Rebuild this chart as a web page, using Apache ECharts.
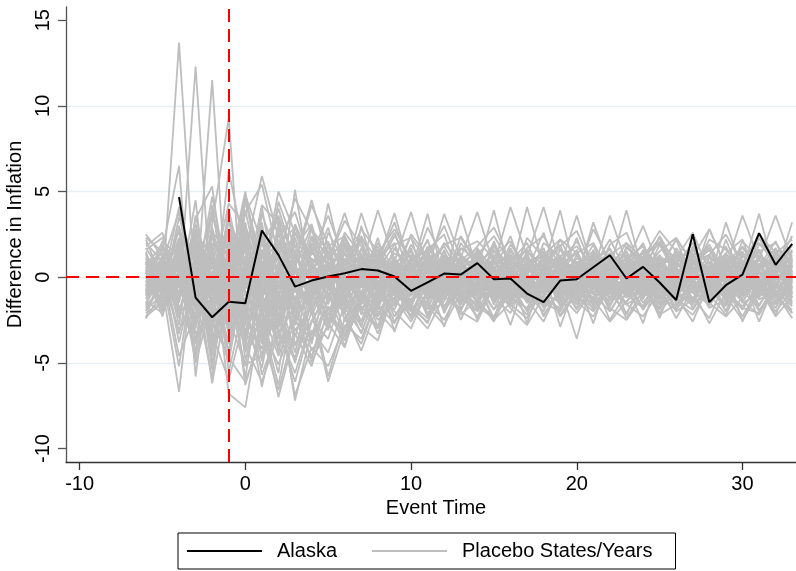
<!DOCTYPE html>
<html><head><meta charset="utf-8">
<script src="https://cdn.jsdelivr.net/npm/echarts@6/dist/echarts.min.js"></script>
<style>html,body{margin:0;padding:0;background:#fff}#c{width:796px;height:571px}</style>
</head><body><div id="c"></div>
<script>
// ---- data ----
const eventTimes = [-6,-5,-4,-3,-2,-1,0,1,2,3, 4,5,6,7,8,9,10,11,12,13, 14,15,16,17,18,19,20,21,22,23, 24,25,26,27,28,29,30,31,32,33];
const alaskaTimes = [-4,-3,-2,-1,0,1,2,3, 4,5,6,7,8,9,10,11,12,13, 14,15,16,17,18,19,20,21,22,23, 24,25,26,27,28,29,30,31,32,33];
const alaskaValues = [4.67,-1.19,-2.34,-1.44,-1.52,2.72,1.30,-0.55, -0.20,0.04,0.23,0.47,0.39,0.04,-0.80,-0.31,0.21,0.15, 0.82,-0.12,-0.08,-0.96,-1.46,-0.20,-0.12,0.58,1.28,-0.08, 0.60,-0.31,-1.33,2.51,-1.46,-0.47,0.15,2.57,0.72,1.95];

const p01 = [0.4,-0.8,13.7,-1.2,0.6,-0.9,1.2,-0.5,0.8,0.3, 1.1,0.2,-0.6,0.9,0.4,-0.3,0.7,1.2,0.1,-0.4, 0.6,1.0,-0.2,0.5,0.9,-0.7,0.3,1.1,0.4,-0.1, 0.8,0.2,-0.5,0.7,1.3,0.0,0.6,-0.8,0.9,0.5];
const p02 = [-0.5,0.9,-1.4,12.3,-2.1,1.5,-1.8,0.7,2.2,-0.9, 0.6,-1.1,1.4,0.3,-0.7,1.0,-0.2,0.8,-1.3,0.5, 1.2,-0.4,0.2,-0.9,1.1,0.6,-0.6,0.4,-1.0,0.9, 0.1,-0.5,1.3,0.3,-0.8,0.7,-0.3,1.0,0.2,-0.6];
const p03 = [1.0,0.3,-0.6,-1.5,11.5,-3.2,0.8,2.1,-1.9,1.3, -0.4,0.9,-1.2,0.5,1.4,-0.3,0.6,-0.8,1.1,0.2, -0.6,0.8,1.3,-0.1,0.4,-1.1,0.7,0.3,-0.4,1.2, 0.5,-0.9,0.2,1.0,-0.3,0.6,1.4,-0.2,0.3,0.8];
const p04 = [-1.2,-0.4,0.8,-2.6,3.1,9.3,-4.2,2.4,-1.6,0.9, 1.8,-0.7,0.4,1.2,-0.9,0.3,0.8,-0.5,1.5,-0.2, 0.7,-1.0,0.5,1.3,-0.4,0.9,0.1,-0.7,1.0,0.4, -0.3,1.2,0.6,-0.8,0.2,0.9,-0.5,0.4,1.1,-0.1];
const p05 = [0.2,1.6,6.5,-5.8,1.9,-3.4,2.6,-2.8,3.3,-1.5, 1.7,-0.8,2.0,-1.2,0.9,0.5,-0.9,1.4,0.1,-0.6, 1.1,0.3,-0.4,0.8,1.2,-0.5,0.6,-0.2,0.9,0.4, -0.8,0.7,1.3,0.0,-0.5,1.0,0.3,-0.7,0.5,1.2];
const p06 = [0.9,-0.3,1.7,-3.6,-2.0,6.2,1.4,5.9,2.3,3.8, 0.6,2.9,-0.5,1.6,0.8,-0.2,1.9,0.4,-0.8,1.3, 0.2,0.9,-0.6,1.5,0.7,-0.3,1.1,0.5,-0.9,0.8, 1.4,-0.2,0.6,1.0,-0.6,0.3,0.9,1.6,-0.4,0.7];
const p07 = [-1.8,-0.6,-6.7,1.8,-5.1,2.3,-3.9,1.6,-2.7,0.5, -1.4,0.8,-0.9,0.2,-1.6,0.6,-0.3,-1.1,0.9,-0.7, 0.4,-1.3,0.1,-0.5,1.0,-0.9,-0.2,0.6,-1.2,0.3, -0.6,0.8,-1.0,0.2,-0.4,1.1,-0.8,0.0,-1.5,0.4];
const p08 = [0.6,-1.1,2.2,-3.0,1.4,-6.8,-7.6,-1.9,-4.6,-2.2, -3.4,-0.6,-2.1,0.4,-1.5,-0.8,0.3,-1.2,-0.4,0.7, -0.9,0.2,-1.4,0.5,-0.3,-1.0,0.8,-0.6,0.1,-1.2, 0.4,-0.7,0.9,-0.2,-1.1,0.6,-0.5,0.3,-0.9,0.2];
const p09 = [-0.9,0.4,-2.0,1.2,-3.8,0.7,-2.4,-4.5,-1.2,-7.2, -3.1,-4.4,-1.6,-2.8,-0.7,-1.9,0.2,-1.3,-0.5,-2.0, 0.3,-0.8,-1.6,0.1,-0.9,0.5,-1.4,-0.2,-0.7,0.6, -1.1,0.2,-0.5,-1.3,0.4,-0.8,0.1,-1.0,0.5,-0.3];
const p10 = [1.3,-0.2,-3.1,-1.0,-5.9,1.9,-0.8,-2.6,-7.0,-3.3, -5.2,-1.8,-3.5,-0.9,-2.3,-0.4,-1.7,0.5,-1.0,-0.2, -1.5,0.6,-0.7,-1.2,0.3,-0.6,-1.8,0.4,-0.3,-0.9, 0.7,-1.3,-0.1,0.5,-0.8,-1.6,0.3,-0.5,0.8,-1.0];
const p11 = [-2.3,-1.5,0.9,-4.7,0.2,-2.9,1.1,-3.8,-1.4,-4.9, -2.0,-6.1,-3.0,-1.1,-3.3,-0.6,-2.4,-1.0,0.1,-1.6, -0.5,-1.9,0.2,-1.1,-0.4,-2.2,-0.8,0.3,-1.3,-0.6, -1.7,0.1,-0.9,-1.4,0.2,-0.7,-1.9,-0.3,-1.0,-2.1];
const p12 = [1.8,2.6,-1.3,3.4,5.3,-1.7,3.8,5.4,1.2,4.6, 2.7,1.0,3.3,1.8,0.6,2.4,1.1,0.3,2.0,0.8, 1.5,-0.1,1.9,0.7,1.3,2.2,0.4,1.0,1.6,0.2, 1.2,2.0,0.6,1.4,-0.2,0.9,1.7,0.5,1.1,1.8];
const p13 = [-1.0,0.5,-2.4,2.7,-1.8,3.6,-2.3,4.1,-1.5,5.1, -0.4,4.3,0.2,3.75,0.8,3.75,0.3,3.7,-0.2,3.6, 0.4,3.9,0.1,4.1,0.6,3.9,-0.1,3.2,0.5,3.9, 0.2,2.4,0.7,2.0,-0.3,3.2,0.4,3.7,0.1,3.2];
const p14 = [0.8,-0.9,3.0,-2.0,3.9,-1.2,4.4,0.5,4.0,0.9, 4.5,1.0,3.75,0.6,3.9,0.9,3.8,0.4,3.7,1.1, 3.8,0.7,4.1,1.2,4.1,0.6,3.6,0.3,3.6,0.8, 3.0,0.5,2.2,-0.2,2.8,0.6,3.6,1.0,3.6,0.9];
const p15 = [0.3,-0.7,1.2,-1.9,2.4,-0.6,1.8,-2.2,0.9,-1.3, 1.6,-0.4,0.7,1.1,-0.8,0.5,1.3,-0.3,0.9,0.2, -0.6,1.0,0.4,-0.9,1.2,0.3,-0.2,0.8,1.4,-0.5, 0.6,0.1,-0.8,1.0,0.4,-0.3,0.9,0.2,-0.6,1.1];
const p16 = [-0.6,0.8,-1.5,2.8,-3.2,1.4,-2.5,3.0,-1.1,2.2, -0.3,1.5,-0.9,0.6,1.8,-0.2,0.4,1.0,-0.7,1.3, 0.5,-0.4,1.1,0.2,-1.0,0.7,1.5,-0.3,0.6,0.0, 1.2,-0.6,0.3,0.9,-0.2,1.4,0.1,-0.9,0.7,0.4];
const p17 = [1.1,0.2,0.7,-0.9,-2.8,3.3,0.5,-3.5,2.7,-1.6, 0.8,2.1,-1.4,0.3,-0.5,1.2,-1.0,0.6,0.2,-0.8, 1.3,0.0,-0.7,0.9,0.5,-1.2,0.3,1.1,-0.4,0.6, -0.2,0.8,1.0,-0.6,0.3,0.7,-1.1,0.5,0.9,-0.3];
const p18 = [-1.4,-2.1,0.4,1.6,-1.2,-4.3,2.2,-1.5,-3.6,0.4, -2.2,-0.3,-1.7,1.0,-0.6,-1.4,0.5,-0.9,-0.2,-1.5, 0.2,-0.7,-1.3,0.6,-0.4,-0.1,-1.6,0.3,-0.8,-0.3, -1.2,0.5,-0.6,-0.1,-1.4,0.2,-0.9,0.6,-0.5,-1.2];
const p19 = [0.7,1.9,-0.3,-2.4,4.2,-2.0,2.9,1.1,3.5,-0.7, 2.4,0.6,1.7,-0.2,2.0,0.4,1.5,-0.6,1.2,0.9, -0.3,1.8,0.5,1.1,-0.5,1.6,0.8,0.0,1.3,0.6, 1.0,-0.4,1.5,0.7,1.9,0.2,-0.1,1.2,0.4,1.6];
const p20 = [-0.2,-1.3,-0.8,0.5,-3.5,-1.1,-5.2,0.6,-4.0,-2.5, -0.9,-3.1,0.2,-1.8,-1.1,0.4,-2.0,-0.5,-1.3,0.3, -1.0,-0.2,-1.7,-0.6,0.5,-1.1,-0.3,-1.9,0.1,-0.7, -0.4,-1.5,0.3,-0.9,-0.2,-1.3,0.4,-0.6,-1.8,0.0];
const p21 = [0.5,0.0,2.3,-1.1,0.6,1.7,-2.6,2.5,0.3,1.9, -1.5,2.0,0.1,-0.9,1.2,0.7,-0.4,1.8,0.2,-0.2, 1.4,0.6,-0.8,1.0,0.3,1.2,-0.5,0.9,0.4,1.5, -0.7,0.8,0.1,1.3,-0.3,0.5,1.0,-0.4,1.4,0.3];
const p22 = [-2.4,-0.9,1.5,-0.4,-1.7,0.8,-3.3,-0.6,1.4,-2.8, -0.1,-1.9,-0.8,0.7,-2.3,-0.2,-1.1,0.6,-1.7,-0.5, 0.3,-1.4,-0.3,-2.0,0.4,-0.8,-1.2,0.2,-1.6,-0.1, -0.9,0.4,-1.3,-0.5,0.3,-2.0,-0.2,-0.8,0.1,-1.4];
const p23 = [2.5,1.2,-0.2,2.0,-0.5,3.4,1.0,-0.8,4.4,1.7, 3.1,-0.2,2.6,1.3,0.4,1.9,2.3,0.9,0.1,1.6, 2.1,1.1,0.3,1.7,2.4,0.6,1.4,2.0,0.2,1.1, 1.8,0.5,2.2,0.9,1.3,2.5,0.7,1.5,2.0,0.6];
const p24 = [-0.8,0.6,-0.1,-1.3,1.0,-0.4,-1.6,1.3,-0.9,0.5, -1.2,0.4,-0.6,-0.2,0.8,-1.0,0.1,-0.5,0.6,-0.9, -0.3,0.5,-1.1,0.0,-0.6,0.8,-0.4,-1.2,0.3,-0.2, 0.6,-0.8,-0.3,0.4,-1.0,0.1,0.7,-0.6,-0.1,0.2];
const p25 = [0.1,-0.4,0.5,0.9,-0.3,-0.9,0.4,0.7,-0.5,0.2, 0.9,-0.6,1.0,0.3,-0.4,0.6,-0.8,0.4,1.0,-0.1, 0.7,-0.5,0.2,1.1,-0.2,0.4,0.9,-0.6,0.5,0.8, -0.4,0.3,0.8,-0.2,0.6,1.0,-0.5,0.2,0.6,-0.7];
const p26 = [1.5,-1.7,-0.5,3.1,-0.9,-2.3,4.6,0.9,-1.9,2.6, 0.2,-2.6,1.1,-1.5,0.5,-0.7,1.7,-1.4,0.8,-0.6, -1.8,0.9,-0.5,1.4,-1.1,0.3,-0.9,1.6,-0.3,0.5, -1.3,1.1,-0.7,0.2,1.2,-1.0,0.4,-0.4,1.0,-1.2];
const p27 = [-1.6,0.3,-2.2,-0.7,2.0,-5.5,-1.3,-6.4,-2.1,-5.0, -1.0,-2.7,-4.1,-0.8,-2.5,-1.5,-0.4,-2.1,-0.9,0.1, -1.4,-0.6,0.2,-1.5,-0.8,-0.3,-1.9,-0.5,0.0,-1.1, -0.7,-1.6,-0.1,-0.9,-1.3,0.3,-1.0,-0.4,-1.5,-0.6];
const p28 = [0.8,1.4,-1.7,-3.9,-1.0,2.8,-4.8,-2.2,-5.6,1.0, -3.7,-1.3,-0.5,-2.6,0.3,-1.4,-2.2,0.1,-0.8,-1.9, -0.2,-1.1,0.4,-0.7,-1.6,0.2,-0.4,-1.2,-0.6,0.5, -1.5,-0.3,-0.9,0.2,-0.6,-1.7,-0.2,0.4,-1.1,-0.5];
const p29 = [-0.4,-1.8,0.2,-5.0,-1.4,-3.7,0.3,-5.7,-3.0,-6.1, -2.6,-0.9,-3.5,-1.7,-2.9,-0.5,-1.6,-2.4,-0.3,-1.2, -2.0,-0.7,-1.3,-0.1,-1.8,-1.0,0.2,-1.5,-0.9,-2.1, -0.4,-1.2,-1.7,-0.2,-0.9,-0.5,-1.4,-2.2,-0.6,-0.8];
const p30 = [2.0,0.9,3.8,-1.4,2.5,0.2,-4.4,-1.0,-3.2,-4.7, -1.5,-5.8,-2.4,-3.9,-1.1,-2.0,-3.0,-0.7,-1.8,0.4, -1.2,-2.6,-0.5,-1.4,-0.2,-2.3,-1.0,-0.6,-1.7,0.1, -0.8,-1.9,-0.4,-1.2,-2.4,-0.1,-0.9,-1.6,-0.3,-1.1];
const p31 = [-0.1,0.7,-1.0,4.5,-4.1,1.2,-2.0,3.2,-2.9,0.6, 3.0,-1.6,1.8,-0.4,2.3,-1.1,0.9,1.6,-1.0,2.0, 0.6,-0.9,1.7,-0.2,0.8,1.9,-0.8,0.5,1.2,-0.6, 1.6,0.3,-0.5,1.8,0.0,1.1,-0.7,1.3,0.5,-0.1];
const p32 = [0.6,-0.5,2.9,0.1,3.9,-0.4,4.8,2.0,3.6,0.8, 4.2,1.9,0.7,2.8,1.5,-0.1,2.5,1.2,3.0,0.5, 1.8,2.9,0.9,1.6,0.1,2.2,1.4,-0.2,1.9,2.6, 0.4,1.5,2.3,0.8,1.7,-0.3,2.1,1.0,0.6,2.4];
const p33 = [-1.1,-0.2,-0.6,2.2,-0.1,4.3,3.0,-0.2,5.0,2.6, 1.3,3.6,0.9,2.2,-0.6,1.7,0.2,2.9,1.0,-0.4, 1.6,0.4,2.4,-0.3,1.3,0.8,2.1,0.3,-0.5,1.7, 1.0,2.3,0.1,1.2,2.8,0.6,-0.4,1.9,1.3,0.2];
const p34 = [0.0,1.1,-3.8,0.4,-6.2,-0.8,-3.1,-1.2,0.5,-3.9, -2.6,-0.7,-1.8,-3.2,-0.9,0.2,-1.6,-2.7,0.3,-1.0, -2.3,-0.4,-1.0,-2.2,0.3,-1.7,-0.6,-0.2,-2.5,-0.9, 0.2,-1.6,-1.1,-2.6,-0.3,-0.7,-2.3,-0.5,-1.2,-1.9];
const p35 = [1.6,2.3,0.1,-0.3,-4.3,-0.2,1.9,-4.9,0.7,-2.0, 1.1,-3.0,-0.4,0.9,-1.9,0.6,-0.9,1.2,-2.1,0.0, 0.8,-1.5,0.5,-0.4,-1.2,1.0,-0.7,-1.6,0.6,-0.5, -1.0,0.9,-1.3,0.4,-0.6,1.0,-1.5,0.3,-0.2,0.7];
const p36 = [-2.0,-0.1,-1.2,0.0,-2.6,-4.7,-6.1,-3.4,-6.6,-3.0, -4.6,-2.1,-3.7,-1.4,-2.0,-3.1,-0.8,-1.5,-2.5,-0.6, -1.7,-2.4,-0.9,-1.3,-2.6,-0.5,-1.2,-2.0,-0.7,-1.6, -2.3,-0.8,-1.3,-1.9,-0.4,-1.1,-2.5,-0.9,-1.4,-0.7];
const p37 = [0.9,-0.9,0.0,1.4,0.9,-2.4,-5.1,-4.6,-1.7,-6.9, -4.1,-5.2,-2.8,-3.6,-1.2,-0.5,-2.0,-1.1,0.2,-0.9, -1.6,0.1,-0.8,-1.9,-0.3,-1.2,0.4,-0.6,-1.4,-0.2, -0.5,-1.8,0.2,-0.9,-1.6,-0.4,0.3,-1.3,-0.8,-1.7];
const p38 = [0.4,-2.3,1.5,-3.8,2.0,-4.6,1.2,-3.9,0.6,-3.5, -0.2,-2.6,0.1,-2.9,0.3,-3.2,-0.1,-2.3,0.2,-2.5, -0.3,-2.4,0.1,-2.7,0.4,-2.9,-0.2,-2.7,0.3,-2.2, -0.1,-2.4,0.2,-1.8,-0.4,-2.0,0.1,-2.6,-0.3,-2.1];
const p39 = [-2.4,0.6,-3.3,1.3,-5.4,0.9,-5.9,0.4,-4.4,-0.5, -3.9,0.2,-3.4,-0.4,-2.9,0.3,-2.4,-0.2,-2.9,0.1, -2.5,-0.3,-2.8,0.2,-2.3,-0.6,-3.6,0.1,-2.0,-0.4, -2.7,0.3,-1.9,-0.2,-1.7,0.4,-2.6,-0.3,-2.2,0.2];
const p40 = [0.2,1.0,-0.9,0.3,1.5,-1.2,0.6,2.4,-0.7,1.1, 0.0,1.3,-0.5,0.8,1.6,-0.1,0.5,-0.9,0.7,1.4, -0.2,0.9,1.2,-0.4,0.3,1.0,0.5,-0.3,0.8,1.3, 0.0,-0.6,1.1,0.6,-0.1,0.9,1.4,0.2,-0.4,0.8];
const p41 = [-0.7,-0.3,0.6,-0.5,-1.9,1.0,-0.4,-1.8,0.5,-0.8, -1.7,0.1,-0.3,-1.2,0.4,-0.6,-1.3,0.0,-0.8,0.6, -0.5,-1.0,0.3,-0.2,-1.4,-0.3,0.5,-0.9,-0.4,0.2, -1.1,-0.1,0.4,-0.7,-0.2,-1.3,0.0,-0.5,0.3,-0.9];
const p42 = [1.2,0.4,1.9,-0.6,0.3,2.1,-1.1,0.2,1.6,-0.3, 0.5,1.2,2.0,0.6,-0.1,1.4,0.8,2.1,0.2,1.0, 1.7,0.3,0.9,2.0,-0.1,1.2,1.8,0.6,2.2,0.3, 1.4,1.9,0.1,0.7,1.6,0.4,1.2,2.0,0.8,1.5];
const p43 = [-1.3,0.2,-0.4,-1.6,0.7,-0.5,-2.0,0.9,-1.4,-2.3, 0.1,-1.0,-2.0,-0.4,-1.3,0.4,-0.9,-1.7,-0.2,-1.1, -1.9,-0.3,-0.8,0.2,-1.3,-1.8,-0.4,-1.0,-2.0,-0.5, 0.0,-1.2,-1.9,-0.6,-1.1,0.1,-1.5,-1.0,-0.4,-1.6];
const p44 = [0.5,-1.0,1.0,-0.2,-0.8,2.6,1.4,-1.4,2.9,0.6, -0.8,1.0,2.2,-0.5,0.9,2.6,0.0,1.1,-0.5,2.4, 0.9,-0.6,1.5,0.4,2.6,-0.3,0.7,1.3,-0.8,1.8, 0.6,2.1,-0.2,1.0,0.3,1.8,-0.4,2.3,0.5,1.2];
const p45 = [-0.3,0.4,-1.2,0.8,-2.2,0.4,-0.8,-2.9,-0.2,-1.4, -0.6,0.7,-0.9,-1.9,-0.3,0.9,-1.5,-0.2,0.7,-0.4, -1.1,-0.8,0.6,-0.5,-0.9,0.4,-1.3,0.6,-0.2,-1.0, 0.5,-0.4,-1.2,0.3,0.9,-0.9,-0.6,0.8,-1.3,-0.2];
const p46 = [0.9,-1.9,-0.5,1.9,-1.4,-0.7,3.2,-2.1,1.8,0.3, -1.0,0.6,-1.2,1.4,-1.6,1.0,0.1,-0.7,1.6,-1.3, 0.5,1.3,-1.0,0.2,1.0,-1.4,0.9,-0.5,0.4,-1.1, 1.1,-0.8,0.6,-1.4,1.2,0.2,-0.9,1.1,-1.1,0.6];
const p47 = [-0.9,1.3,0.3,-1.8,2.6,1.6,-2.8,3.7,1.0,-1.9, 2.3,-0.5,0.4,2.4,0.3,-0.9,1.1,0.6,-0.6,0.9, -0.1,1.5,0.8,-0.7,0.6,1.3,-0.5,0.9,0.2,-0.8, 1.1,0.4,-1.0,0.9,0.3,-0.7,1.4,-0.3,0.6,1.0];
const p48 = [0.1,-0.6,0.3,0.6,-0.6,0.2,-0.3,0.4,0.1,-0.4, 0.3,0.0,-0.5,0.5,0.2,-0.3,0.4,-0.1,0.2,0.6, -0.2,0.1,0.5,-0.4,0.2,0.0,0.6,-0.5,0.3,0.1, -0.3,0.4,0.2,-0.2,0.5,-0.4,0.1,0.3,-0.1,0.4];
const p49 = [2.2,-0.2,0.9,-0.9,1.2,-3.0,2.4,-0.5,-2.5,1.5, -1.3,0.8,-0.2,-1.4,1.3,-0.8,0.3,1.5,-1.2,0.2, -0.7,1.1,-1.5,0.3,0.6,-0.5,1.3,-0.9,-0.1,0.9, -0.6,-1.2,0.8,0.3,-0.9,0.7,0.0,-1.1,0.9,-0.4];
const p50 = [-1.5,0.1,2.7,-2.7,0.0,-3.9,-0.3,1.5,-3.0,1.6, -1.9,-0.2,1.4,-1.0,-1.7,0.8,-0.6,-1.9,0.5,-1.2, 0.2,-0.5,-1.7,0.9,-0.9,0.1,-1.2,0.8,-0.6,-1.5, 0.4,-0.9,0.5,-1.3,0.0,-1.0,0.7,-1.7,0.1,-0.5];
const p51 = [-0.5,1.2,-2.8,3.6,-0.7,-3.1,2.1,-1.2,-4.1,2.3, -0.6,1.4,-1.9,0.2,1.6,-1.1,0.7,-0.8,1.3,-0.4, 0.9,-1.6,0.4,1.2,-0.8,0.1,1.6,-1.0,0.5,1.1, -0.9,0.6,1.4,-0.5,-1.3,0.8,0.2,1.5,-0.7,0.3];
const p52 = [1.4,-0.8,0.6,-4.4,2.9,-0.9,-2.7,-5.3,-0.4,-3.1, -1.8,0.6,-2.5,-0.3,-1.5,1.1,-1.0,0.3,-2.0,0.8, -0.8,0.5,-1.1,-0.2,1.2,-1.6,-0.1,0.7,-1.3,0.2, 0.9,-1.5,-0.3,0.6,-0.9,1.3,-1.4,0.0,0.8,-1.0];
const p53 = [-1.9,-1.0,3.5,0.8,-2.4,4.0,-0.6,2.8,-2.4,3.1, 1.0,-1.3,2.4,0.5,-0.8,1.7,0.3,2.2,-0.6,1.1, 0.4,2.0,-0.9,0.7,1.5,0.0,2.3,-0.4,1.0,0.6, 2.0,-0.5,0.9,1.6,0.2,-0.8,1.2,0.6,2.1,-0.2];
const p54 = [0.6,0.3,-4.6,-2.1,0.3,-1.8,-3.7,-2.6,-6.3,-1.4, -4.3,-2.9,-1.2,-3.3,-0.5,-2.6,-1.4,-0.2,-1.9,-0.8, -2.4,-0.3,-1.2,-1.8,0.0,-1.0,-2.1,-0.7,0.2,-1.6, -1.0,-0.2,-2.0,-1.3,0.1,-0.9,-1.7,-0.6,-2.0,-0.8];
const p55 = [-0.3,2.1,1.2,-1.4,3.7,0.9,-0.6,4.2,3.1,-0.4, 2.8,1.5,-0.7,2.3,1.0,3.2,0.4,1.6,2.5,-0.3, 1.3,2.4,0.8,-0.5,2.0,1.2,0.1,2.8,0.9,1.5, -0.2,1.9,1.1,2.6,0.3,1.4,2.2,-0.5,1.6,1.0];
const p56 = [0.8,-1.6,-0.9,2.4,-4.6,-1.5,-2.8,0.8,-3.3,-5.6, -2.5,-3.6,-0.6,-2.0,-3.0,-1.2,-0.3,-2.2,-1.4,0.5, -1.5,-2.3,-0.4,-1.0,-2.0,0.3,-1.1,-1.8,-0.5,-2.4, -0.8,0.0,-1.4,-2.2,-0.6,-1.2,0.2,-1.9,-1.0,-0.3];
const p57 = [-0.1,0.9,-1.9,0.2,2.5,-2.6,3.9,-0.4,2.0,0.4, -0.9,2.6,0.9,-0.6,1.1,2.0,-0.7,0.9,1.8,0.1, -0.5,1.2,2.1,-0.2,0.7,1.7,-0.6,1.4,0.5,2.0, 0.3,1.2,-0.8,1.6,0.9,-0.1,1.8,0.6,-0.6,1.5];
const p58 = [1.7,0.2,-0.4,-2.2,-0.5,1.3,-6.3,-3.0,-5.1,-2.6, -3.6,-1.7,-4.0,-1.1,-2.2,-0.3,-1.8,-2.6,-0.6,-1.4, -0.2,-1.9,-0.8,0.1,-1.5,-2.0,-0.4,-1.3,0.0,-1.0, -1.8,-0.4,0.2,-1.5,-1.0,-2.2,-0.2,-0.9,-1.6,0.1];
const p59 = [-1.1,0.5,0.9,1.1,-0.4,2.8,-1.7,1.6,-0.6,3.0, 0.4,-0.5,1.5,2.1,-0.9,0.8,1.6,-0.3,0.5,1.7, 1.0,-0.2,1.3,0.6,-0.7,1.1,0.3,1.9,-0.4,0.4, 1.5,0.8,-0.2,1.1,1.7,-0.6,0.5,1.0,0.1,1.9];
const p60 = [0.3,-2.0,-0.2,-0.8,-3.0,0.4,-1.9,-3.3,0.3,-2.1, -1.1,-2.2,0.6,-1.6,-0.2,-2.3,-0.7,-1.5,0.4,-1.8, -0.6,-1.2,-2.1,0.0,-0.9,-1.5,0.6,-1.7,-0.8,-0.1, -1.9,-0.5,-1.0,-1.6,0.5,-1.1,-0.3,-2.0,-0.4,-1.2];
const p61 = [2.3,1.5,0.4,2.6,1.1,-0.5,2.7,0.1,1.9,2.9, 0.7,1.8,2.4,-0.2,1.4,2.8,1.0,0.2,1.9,2.3, 0.8,1.6,-0.4,2.3,1.1,1.8,2.7,0.5,1.3,2.0, 1.1,2.7,1.5,0.2,2.2,1.6,0.8,2.5,1.4,2.2];
const p62 = [-0.6,-1.2,1.9,-3.3,-1.8,-5.0,0.7,-3.1,-1.0,-4.4, -0.5,-2.4,-3.1,0.1,-1.9,-1.2,-2.6,-0.8,-0.1,-2.2, -1.3,0.4,-1.6,-2.4,-0.6,-0.2,-1.4,-2.3,-0.5,-1.0, -0.3,-2.1,-0.7,-0.1,-1.8,-1.3,-0.4,-0.6,-2.3,-1.1];
const p63 = [0.0,0.8,-0.6,1.9,-1.0,0.5,-1.4,2.0,0.4,-0.6, 1.4,0.9,-0.3,0.2,1.1,-0.7,1.2,0.5,-0.3,0.7, 0.0,1.1,0.5,-0.6,0.9,-0.1,0.3,1.2,0.7,-0.5, 0.4,1.3,-0.4,0.5,0.8,0.3,-0.8,0.7,1.2,0.0];
const p64 = [-1.0,0.0,-1.2,-0.1,1.3,-1.6,-0.6,-1.0,1.2,-1.5, -0.7,-0.2,-1.4,0.5,-0.9,-0.4,0.8,-1.3,-0.6,0.1, -1.0,-0.4,0.4,-1.3,-0.1,-0.7,-1.0,0.5,-0.9,-0.4, -0.2,-1.1,0.3,-0.4,-1.2,0.5,-0.6,-0.1,-0.8,-0.9];
const p65 = [1.1,-0.4,4.1,-1.6,-2.9,0.4,5.0,-0.9,1.3,-2.5, 2.0,-0.1,-1.6,3.0,-0.4,0.5,2.4,-1.2,0.6,1.1, -0.9,2.1,-0.2,0.3,1.7,-1.3,0.8,1.5,-0.9,0.9, 1.9,-1.1,0.0,1.3,-0.7,2.2,-0.2,0.5,1.7,-0.6];
const p66 = [-0.8,1.8,-0.5,-2.9,1.8,2.6,-0.2,0.9,-2.6,-4.0, -1.3,1.9,-2.6,-0.1,0.6,-1.7,0.7,-1.0,0.9,-1.4, 0.6,-1.1,0.8,-1.5,0.1,1.0,-1.3,0.4,-0.8,1.3, -1.0,0.2,-0.5,1.0,-1.4,0.4,0.8,-1.2,0.3,-0.6];
const p67 = [0.5,-0.1,-5.2,1.5,-3.3,-6.0,-2.2,-4.2,0.1,-2.4, -4.8,-1.0,-2.1,-4.3,-1.6,-2.7,-0.2,-1.7,-2.8,-0.9, -0.4,-2.5,-1.5,-0.3,-2.2,-0.8,-1.6,0.1,-1.8,-2.5, -1.1,-0.5,-2.4,-0.7,-1.5,-2.3,-1.2,0.0,-0.9,-2.4];
const p68 = [-1.7,-0.5,1.1,-0.6,4.7,-0.3,1.6,-1.7,0.2,1.2, -0.3,0.9,-0.8,1.7,-1.2,0.6,-0.5,1.3,0.4,-1.0, 1.6,-0.3,0.5,-1.2,1.4,0.6,-0.8,0.2,1.7,-0.3, 0.3,-0.9,1.7,0.4,-0.5,0.7,1.5,-0.8,0.4,1.3];
const p69 = [0.9,1.1,-0.2,0.6,-1.6,3.6,-3.6,0.5,-1.3,0.0, -2.0,0.4,1.0,-2.2,0.7,-0.9,-1.8,0.8,-0.3,-1.1, 0.5,-1.3,0.9,0.3,-1.7,0.5,-0.6,-1.4,1.1,-0.7, -0.3,1.0,-1.6,-0.3,0.7,-1.5,0.6,-0.2,-1.1,0.9];
const p70 = [-2.1,-1.4,0.0,-1.1,0.9,-0.9,-4.0,-6.1,-3.3,-1.7, -5.0,-2.7,-1.0,-2.9,-3.7,-0.6,-1.9,-3.0,-1.1,-2.0, -2.6,-0.5,-1.8,-2.8,-1.1,-1.9,-0.2,-1.3,-2.6,-1.4, -0.6,-2.2,-1.6,-0.8,-2.7,-0.9,-1.8,-2.1,-0.4,-1.5];
const placeboLines = [p01,p02,p03,p04,p05,p06,p07,p08,p09,p10,p11,p12,p13,p14,p15,p16,p17,p18,p19,p20,p21,p22,p23,p24,p25,p26,p27,p28,p29,p30,p31,p32,p33,p34,p35,p36,p37,p38,p39,p40,p41,p42,p43,p44,p45,p46,p47,p48,p49,p50,p51,p52,p53,p54,p55,p56,p57,p58,p59,p60,p61,p62,p63,p64,p65,p66,p67,p68,p69,p70];

const xTickValues = [-10, 0, 10, 20, 30];
const yTickValues = [-10, -5, 0, 5, 10, 15];
const treatmentTime = -1;
const zeroLine = 0;
const alaskaName = 'Alaska';
const placeboName = 'Placebo States/Years';
const xTitle = 'Event Time';
const yTitle = 'Difference in Inflation';

// ---- chart ----
const FONT = '"Liberation Sans", Arial, Helvetica, sans-serif';
const GRAY = '#bebebe';
const chart = echarts.init(document.getElementById('c'), null, {renderer: 'canvas'});

const series = placeboLines.map(vals => ({
  type: 'line', name: placeboName,
  data: eventTimes.map((t, i) => [t, vals[i]]),
  symbol: 'none', silent: true, z: 2,
  lineStyle: {color: GRAY, width: 1.8},
  itemStyle: {color: GRAY}
}));
series.push({
  type: 'line', name: alaskaName,
  data: alaskaTimes.map((t, i) => [t, alaskaValues[i]]),
  symbol: 'none', silent: true, z: 3,
  lineStyle: {color: '#000000', width: 2},
  itemStyle: {color: '#000000'},
  markLine: {
    silent: true, symbol: 'none', label: {show: false}, animation: false,
    lineStyle: {color: '#ff0000', type: [13, 7], width: 2},
    data: [{xAxis: treatmentTime}, {yAxis: zeroLine}]
  }
});

chart.setOption({
  animation: false,
  backgroundColor: '#ffffff',
  textStyle: {fontFamily: FONT},
  grid: {left: 66, right: 0, top: 7, bottom: 109, containLabel: false, outerBoundsMode: 'none'},
  xAxis: {
    type: 'value', min: -10.82, max: 33.23, splitNumber: 5,
    axisLine: {onZero: false, lineStyle: {color: '#333333', width: 1.3}},
    axisTick: {show: true, customValues: xTickValues, length: 8, lineStyle: {color: '#333333', width: 1.3}},
    axisLabel: {customValues: xTickValues, fontSize: 20, color: '#000', margin: 12, fontFamily: FONT},
    splitLine: {show: false},
    name: xTitle, nameLocation: 'middle', nameGap: 36,
    nameTextStyle: {fontSize: 20, color: '#000', fontFamily: FONT, padding: [0, 0, 0, 10]}
  },
  yAxis: {
    type: 'value', min: -10.79, max: 15.77, splitNumber: 5,
    axisLine: {show: true, onZero: false, lineStyle: {color: '#555555', width: 1.3}},
    axisTick: {show: true, customValues: yTickValues, length: 8, lineStyle: {color: '#555555', width: 1.3}},
    axisLabel: {customValues: yTickValues, rotate: 90, fontSize: 20, color: '#000', margin: 13, fontFamily: FONT},
    splitLine: {show: true, showMinLine: false, showMaxLine: false, lineStyle: {color: '#e6eef1', width: 1.3}},
    name: yTitle, nameLocation: 'middle', nameRotate: 90, nameGap: 34,
    nameTextStyle: {fontSize: 20, color: '#000', fontFamily: FONT}
  },
  legend: {
    data: [alaskaName, placeboName],
    left: 178, top: 533, orient: 'horizontal',
    icon: 'rect', itemWidth: 75, itemHeight: 2, itemGap: 35,
    padding: [8, 23, 8, 9],
    borderColor: '#000', borderWidth: 1, borderRadius: 0,
    selectedMode: false,
    textStyle: {fontSize: 20, color: '#000', fontFamily: FONT, padding: [0, 0, 0, 10]}
  },
  series: series
});
</script>
</body></html>
